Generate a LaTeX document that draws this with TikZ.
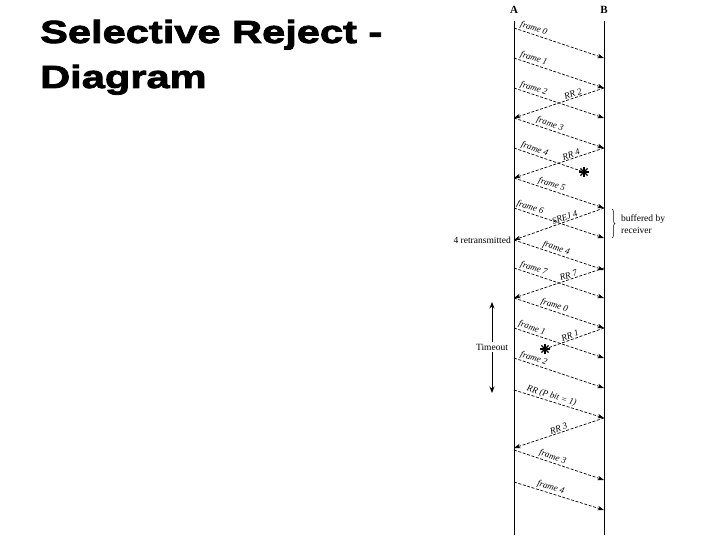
\documentclass[tikz,border=0pt]{standalone}
\usepackage{fontspec}
\setmainfont{Liberation Serif}
\newfontfamily\titlefont[FakeStretch=1.3,FakeBold=2.5]{Liberation Sans}
\usetikzlibrary{arrows.meta,decorations.pathreplacing,calc}
\tikzset{
  msg/.style={line width=0.7pt, dash pattern=on 3pt off 1.6pt, -{Stealth[length=6.5pt,width=4.5pt]}},
  lost/.style={line width=0.7pt, dash pattern=on 3pt off 1.6pt},
  lbl/.style={font=\fontsize{9}{10}\selectfont\itshape, sloped, above, inner sep=1pt},
  note/.style={font=\fontsize{9.5}{12}\selectfont, inner sep=1pt},
  station/.style={font=\fontsize{11}{12}\selectfont\bfseries, inner sep=0pt},
  titletxt/.style={font=\titlefont\bfseries\fontsize{32}{36}\selectfont, inner sep=0pt, anchor=base west},
  life/.style={line width=0.8pt},
  spoke/.style={line width=1.4pt}
}
\begin{document}
\begin{tikzpicture}[x=1pt,y=-1pt]
\useasboundingbox (0,0) rectangle (720,540);
% title
\node[titletxt] (t1) at (40,43) {Selective Reject -};
\node[titletxt] (t2) at (40,88) {Diagram};
% stations
\node[station] (A) at (514,10) {A};
\node[station] (B) at (604,10) {B};
\coordinate (Atop) at (514,21); \coordinate (Abot) at (514,535);
\coordinate (Btop) at (604,21); \coordinate (Bbot) at (604,535);
\draw[life] (Atop) -- (Abot);
\draw[life] (Btop) -- (Bbot);
% points on A and B
\foreach \y in {28,58,88,118,148,178,208,240,268,298,328,358,390,448,450,482}
  \coordinate (a\y) at (514,\y);
\foreach \y in {58,88,118,148,208,238,268,270,298,328,358,388,418,480,510}
  \coordinate (b\y) at (604,\y);
\coordinate (s1) at (584,172);
\coordinate (s2) at (545,349);
% A -> B frames
\draw[msg] (a28) -- node[lbl,pos=.2] {frame 0} (b58);
\draw[msg] (a58) -- node[lbl,pos=.2] {frame 1} (b88);
\draw[msg] (a88) -- node[lbl,pos=.2] {frame 2} (b118);
\draw[msg] (a118) -- node[lbl,pos=.38] {frame 3} (b148);
\draw[lost] (a148) -- node[lbl,pos=.27] {frame 4} (s1);
\draw[msg] (a178) -- node[lbl,pos=.4] {frame 5} (b208);
\draw[msg] (a208) -- node[lbl,pos=.16] {frame 6} (b238);
\draw[msg] (a240) -- node[lbl,pos=.45] {frame 4} (b270);
\draw[msg] (a268) -- node[lbl,pos=.2] {frame 7} (b298);
\draw[msg] (a298) -- node[lbl,pos=.43] {frame 0} (b328);
\draw[msg] (a328) -- node[lbl,pos=.18] {frame 1} (b358);
\draw[msg] (a358) -- node[lbl,pos=.2] {frame 2} (b388);
\draw[msg] (a390) -- node[lbl,pos=.4] {RR (P bit = 1)} (b418);
\draw[msg] (a450) -- node[lbl,pos=.41] {frame 3} (b480);
\draw[msg] (a482) -- node[lbl,pos=.39] {frame 4} (b510);
% B -> A acknowledgements
\draw[msg] (b88) -- node[lbl,pos=.33] {RR 2} (a118);
\draw[msg] (b148) -- node[lbl,pos=.35] {RR 4} (a178);
\draw[msg] (b208) -- node[lbl,pos=.42] {SREJ 4} (a240);
\draw[msg] (b268) -- node[lbl,pos=.38] {RR 7} (a298);
\draw[lost] (b328) -- node[lbl,pos=.55] {RR 1} (s2);
\draw[msg] (b418) -- node[lbl,pos=.49] {RR 3} (a448);
% lost markers
\foreach \s in {s1,s2}
  \foreach \a in {0,45,90,135}
    \draw[spoke] ($(\s)+(\a:5)$) -- ($(\s)+(\a+180:5)$);
% annotations
\node[note, anchor=east] (retx) at (512,240) {4 retransmitted};
\coordinate (br1) at (612,209); \coordinate (br2) at (612,238);
\draw[line width=0.5pt, decorate, decoration={brace, amplitude=3pt}] (br1) -- (br2);
\node[note, anchor=west, align=left] (buf) at (620,224) {buffered by\\receiver};
\coordinate (to1) at (492,302); \coordinate (to2) at (492,393);
\draw[line width=0.8pt, {Stealth[length=6.5pt,width=5pt]}-{Stealth[length=6.5pt,width=5pt]}] (to1) -- (to2);
\node[note, fill=white, inner sep=1.5pt] (tout) at (492,347) {Timeout};
\end{tikzpicture}
\end{document}
